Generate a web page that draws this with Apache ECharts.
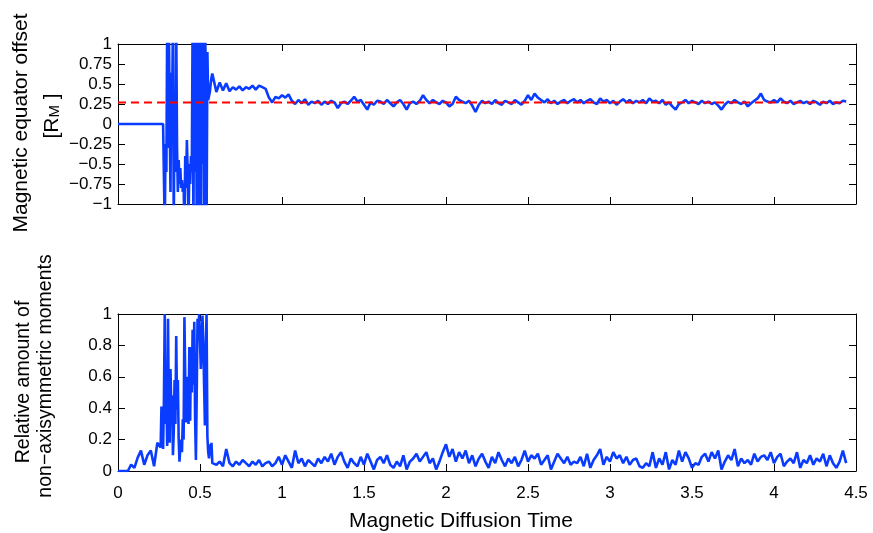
<!DOCTYPE html>
<html>
<head>
<meta charset="utf-8">
<script src="https://cdn.jsdelivr.net/npm/echarts@6/dist/echarts.min.js"></script>
<style>
html,body{margin:0;padding:0;background:#fff;}
#chart{width:873px;height:533px;}
</style>
</head>
<body>
<div id="chart"></div>
<script>
// Time samples (magnetic diffusion time)
const time = [
  0,0.02,0.04,0.06,0.08,0.10,0.12,0.14,
  0.16,0.18,0.20,0.22,0.24,0.26,
  0.265,0.27,0.275,0.28,0.285,0.29,0.295,0.30,
  0.305,0.31,0.315,0.32,0.325,0.33,0.335,0.34,
  0.345,0.35,0.355,0.36,0.365,0.37,0.375,0.38,
  0.385,0.39,0.395,0.40,0.405,0.41,0.415,0.42,
  0.425,0.43,0.435,0.44,0.445,0.45,0.455,0.46,
  0.465,0.47,0.475,0.48,0.485,0.49,0.495,0.50,
  0.505,0.51,0.515,0.52,0.525,0.53,0.535,0.54,
  0.545,0.55,0.555,0.56,0.565,0.57,0.575,0.58,
  0.60,0.62,0.64,0.66,0.68,0.70,0.72,0.74,0.76,0.78,
  0.80,0.82,0.84,0.86,0.88,0.90,0.92,0.94,0.96,0.98,
  1.00,1.02,1.04,1.06,1.08,1.10,1.12,1.14,1.16,1.18,
  1.20,1.22,1.24,1.26,1.28,1.30,1.32,1.34,1.36,1.38,
  1.40,1.42,1.44,1.46,1.48,1.50,1.52,1.54,1.56,1.58,
  1.60,1.62,1.64,1.66,1.68,1.70,1.72,1.74,1.76,1.78,
  1.80,1.82,1.84,1.86,1.88,1.90,1.92,1.94,1.96,1.98,
  2.00,2.02,2.04,2.06,2.08,2.10,2.12,2.14,2.16,2.18,
  2.20,2.22,2.24,2.26,2.28,2.30,2.32,2.34,2.36,2.38,
  2.40,2.42,2.44,2.46,2.48,2.50,2.52,2.54,2.56,2.58,
  2.60,2.62,2.64,2.66,2.68,2.70,2.72,2.74,2.76,2.78,
  2.80,2.82,2.84,2.86,2.88,2.90,2.92,2.94,2.96,2.98,
  3.00,3.02,3.04,3.06,3.08,3.10,3.12,3.14,3.16,3.18,
  3.20,3.22,3.24,3.26,3.28,3.30,3.32,3.34,3.36,3.38,
  3.40,3.42,3.44,3.46,3.48,3.50,3.52,3.54,3.56,3.58,
  3.60,3.62,3.64,3.66,3.68,3.70,3.72,3.74,3.76,3.78,
  3.80,3.82,3.84,3.86,3.88,3.90,3.92,3.94,3.96,3.98,
  4.00,4.02,4.04,4.06,4.08,4.10,4.12,4.14,4.16,4.18,
  4.20,4.22,4.24,4.26,4.28,4.30,4.32,4.34,4.36,4.38,
  4.40,4.42,4.44
];

// Magnetic equator offset [R_M]
const equatorOffset = [
  0,0,0,0,0,0,0,0,
  0,0,0,0,0,0,
  0,0,0,0.01,-1.3,-0.25,-0.6,1.3,
  -0.3,1.3,0.1,-0.85,0.64,0.2,1.3,-1.3,
  0.4,-0.6,1.3,-0.3,-0.85,-0.45,-0.75,-0.55,
  -0.8,-0.7,-0.85,-0.75,-1.3,-0.4,-0.8,-0.2,
  -0.6,-1.3,-0.5,-0.75,-0.4,-0.6,1.3,-1.3,
  1.3,-0.6,1.3,-1.3,1.3,0.3,-1.3,1.3,
  -1.3,1.3,-0.5,1.3,-1.3,1.3,0.7,-1.3,
  0.9,0.3,0.35,0.4,0.5,0.58,0.63,0.62,
  0.40,0.52,0.42,0.51,0.41,0.46,0.43,0.47,0.42,0.46,
  0.44,0.48,0.43,0.48,0.46,0.44,0.33,0.27,0.34,0.32,
  0.36,0.33,0.37,0.29,0.25,0.30,0.26,0.31,0.24,0.28,
  0.26,0.29,0.24,0.28,0.25,0.29,0.27,0.20,0.26,0.28,
  0.25,0.29,0.34,0.28,0.30,0.24,0.18,0.27,0.24,0.29,
  0.28,0.25,0.30,0.26,0.22,0.27,0.30,0.25,0.18,0.26,
  0.28,0.25,0.29,0.36,0.30,0.26,0.30,0.27,0.25,0.29,
  0.27,0.22,0.25,0.34,0.30,0.28,0.26,0.29,0.23,0.15,
  0.24,0.29,0.26,0.28,0.25,0.30,0.26,0.24,0.29,0.27,
  0.25,0.30,0.27,0.24,0.29,0.36,0.30,0.38,0.33,0.30,
  0.27,0.31,0.26,0.29,0.25,0.28,0.30,0.26,0.29,0.31,
  0.27,0.30,0.26,0.29,0.31,0.27,0.25,0.32,0.28,0.30,
  0.26,0.29,0.24,0.28,0.31,0.27,0.30,0.26,0.29,0.27,
  0.30,0.26,0.32,0.28,0.29,0.26,0.30,0.24,0.27,0.22,
  0.18,0.25,0.27,0.30,0.26,0.29,0.27,0.25,0.29,0.26,
  0.28,0.25,0.27,0.23,0.18,0.24,0.28,0.26,0.30,0.27,
  0.25,0.28,0.22,0.26,0.29,0.32,0.38,0.30,0.28,0.27,
  0.30,0.27,0.32,0.28,0.26,0.29,0.25,0.27,0.29,0.26,
  0.28,0.25,0.29,0.27,0.24,0.28,0.26,0.29,0.25,0.27,
  0.26,0.29,0.28
];

// Mean offset (red dashed reference)
const meanOffset = 0.27;
const meanSpan = [0, 4.44];

// Relative amount of non-axisymmetric moments
const nonAxiRatio = [
  0,0,0,0,0.04,0.02,0.085,0.13,
  0.04,0.10,0.13,0.03,0.18,0.15,
  0.41,0.25,0.14,0.45,1.0,0.3,0.48,0.16,
  0.97,0.35,0.18,0.65,0.4,0.48,0.1,0.25,
  0.58,0.3,0.86,0.39,0.58,0.2,0.06,0.15,
  0.2,0.12,0.33,0.2,0.98,0.6,0.31,0.45,
  0.6,0.3,0.79,0.32,0.79,0.5,0.9,0.55,
  0.95,0.35,0.07,0.5,0.97,0.9,1.0,1.0,
  0.65,0.8,0.99,0.82,0.55,0.29,0.75,1.0,
  0.22,0.12,0.08,0.17,0.1,0.18,0.05,0.04,
  0.04,0.06,0.03,0.14,0.05,0.03,0.06,0.04,0.07,0.05,
  0.03,0.06,0.04,0.07,0.03,0.05,0.06,0.03,0.05,0.09,
  0.04,0.10,0.06,0.02,0.13,0.05,0.08,0.03,0.07,0.05,
  0.03,0.08,0.05,0.09,0.06,0.11,0.04,0.09,0.12,0.06,
  0.02,0.08,0.05,0.03,0.09,0.04,0.11,0.06,0.01,0.07,
  0.09,0.05,0.10,0.04,0.02,0.06,0.03,0.10,0.01,0.06,
  0.08,0.11,0.06,0.09,0.12,0.05,0.08,0.01,0.06,0.12,
  0.17,0.09,0.14,0.06,0.12,0.08,0.13,0.05,0.10,0.03,
  0.08,0.11,0.06,0.02,0.09,0.05,0.12,0.07,0.03,0.08,
  0.05,0.09,0.03,0.07,0.13,0.06,0.10,0.08,0.11,0.04,
  0.07,0.10,0.01,0.06,0.11,0.08,0.05,0.09,0.04,0.06,
  0.05,0.09,0.03,0.11,0.02,0.07,0.10,0.14,0.04,0.09,
  0.06,0.12,0.08,0.10,0.05,0.09,0.04,0.07,0.08,0.03,
  0.02,0.05,0.03,0.12,0.02,0.08,0.04,0.12,0.01,0.07,
  0.04,0.13,0.06,0.12,0.08,0.02,0.05,0.04,0.09,0.11,
  0.06,0.12,0.08,0.13,0.01,0.06,0.10,0.07,0.14,0.03,
  0.08,0.05,0.07,0.04,0.11,0.06,0.09,0.10,0.07,0.12,
  0.05,0.09,0.11,0.03,0.06,0.08,0.05,0.12,0.02,0.07,
  0.05,0.10,0.04,0.08,0.06,0.11,0.03,0.10,0.05,0.02,
  0.06,0.13,0.05
];

// Axis ticks
const xTicks = { min: 0, max: 4.5, step: 0.5 };
const yTopTicks = { min: -1, max: 1, step: 0.25 };
const yBottomTicks = { min: 0, max: 1, step: 0.2 };

const FONT = 'Liberation Sans, Arial, Helvetica, sans-serif';
const BLUE = '#0a3cff';

function fmt(v) {
  return String(+Number(v).toFixed(2)).replace('-', '\u2212');
}

function xAx(gridIndex, position, showLabels) {
  return {
    type: 'value', gridIndex, position,
    min: xTicks.min, max: xTicks.max, interval: xTicks.step,
    axisLine: { show: true, onZero: false, lineStyle: { color: '#000', width: 1 } },
    axisTick: { show: true, inside: true, length: 7, lineStyle: { color: '#000' } },
    axisLabel: { show: showLabels, margin: 14, color: '#000', fontFamily: FONT, fontSize: 17, formatter: fmt },
    splitLine: { show: false }
  };
}
function yAx(gridIndex, position, ticks, showLabels) {
  return {
    type: 'value', gridIndex, position,
    min: ticks.min, max: ticks.max, interval: ticks.step,
    axisLine: { show: true, onZero: false, lineStyle: { color: '#000', width: 1 } },
    axisTick: { show: true, inside: true, length: 7, lineStyle: { color: '#000' } },
    axisLabel: { show: showLabels, margin: 6, color: '#000', fontFamily: FONT, fontSize: 17, formatter: fmt },
    splitLine: { show: false }
  };
}

const chart = echarts.init(document.getElementById('chart'), null, { renderer: 'canvas' });
chart.setOption({
  animation: false,
  backgroundColor: '#fff',
  grid: [
    { left: 118, right: 17, top: 44, height: 160 },
    { left: 118, right: 17, top: 314, height: 157 }
  ],
  xAxis: [xAx(0, 'bottom', false), xAx(0, 'top', false), xAx(1, 'bottom', true), xAx(1, 'top', false)],
  yAxis: [
    yAx(0, 'left', yTopTicks, true), yAx(0, 'right', yTopTicks, false),
    yAx(1, 'left', yBottomTicks, true), yAx(1, 'right', yBottomTicks, false)
  ],
  series: [
    {
      type: 'line', xAxisIndex: 0, yAxisIndex: 0, showSymbol: false, clip: true,
      data: time.map((t, i) => [t, equatorOffset[i]]),
      lineStyle: { color: BLUE, width: 2.6 }, itemStyle: { color: BLUE }, z: 2
    },
    {
      type: 'line', xAxisIndex: 0, yAxisIndex: 0, showSymbol: false, clip: true,
      data: meanSpan.map(t => [t, meanOffset]),
      lineStyle: { color: '#ff0000', width: 2, type: [8, 5] }, itemStyle: { color: '#ff0000' }, z: 3
    },
    {
      type: 'line', xAxisIndex: 2, yAxisIndex: 2, showSymbol: false, clip: true,
      data: time.map((t, i) => [t, nonAxiRatio[i]]),
      lineStyle: { color: BLUE, width: 2.6 }, itemStyle: { color: BLUE }, z: 2
    }
  ],
  graphic: [
    { type: 'text', x: 21.5, y: 123, rotation: Math.PI / 2,
      style: { text: 'Magnetic equator offset', font: '21px ' + FONT, fill: '#000', align: 'center', verticalAlign: 'middle' } },
    { type: 'text', x: 52, y: 116, rotation: Math.PI / 2,
      style: { text: '[R{s|M} ]', font: '21px ' + FONT, fill: '#000', align: 'center', verticalAlign: 'middle',
        rich: { s: { fontSize: 15, fontFamily: FONT, verticalAlign: 'bottom', lineHeight: 12, padding: [8, 0, 0, 0] } } } },
    { type: 'text', x: 24, y: 382, rotation: Math.PI / 2,
      style: { text: 'Relative amount of', font: '19.5px ' + FONT, fill: '#000', align: 'center', verticalAlign: 'middle' } },
    { type: 'text', x: 46, y: 376, rotation: Math.PI / 2,
      style: { text: 'non\u2212axisymmetric moments', font: '19.5px ' + FONT, fill: '#000', align: 'center', verticalAlign: 'middle' } },
    { type: 'text', x: 461, y: 521,
      style: { text: 'Magnetic Diffusion Time', font: '21px ' + FONT, fill: '#000', align: 'center', verticalAlign: 'middle' } }
  ]
});
</script>
</body>
</html>
